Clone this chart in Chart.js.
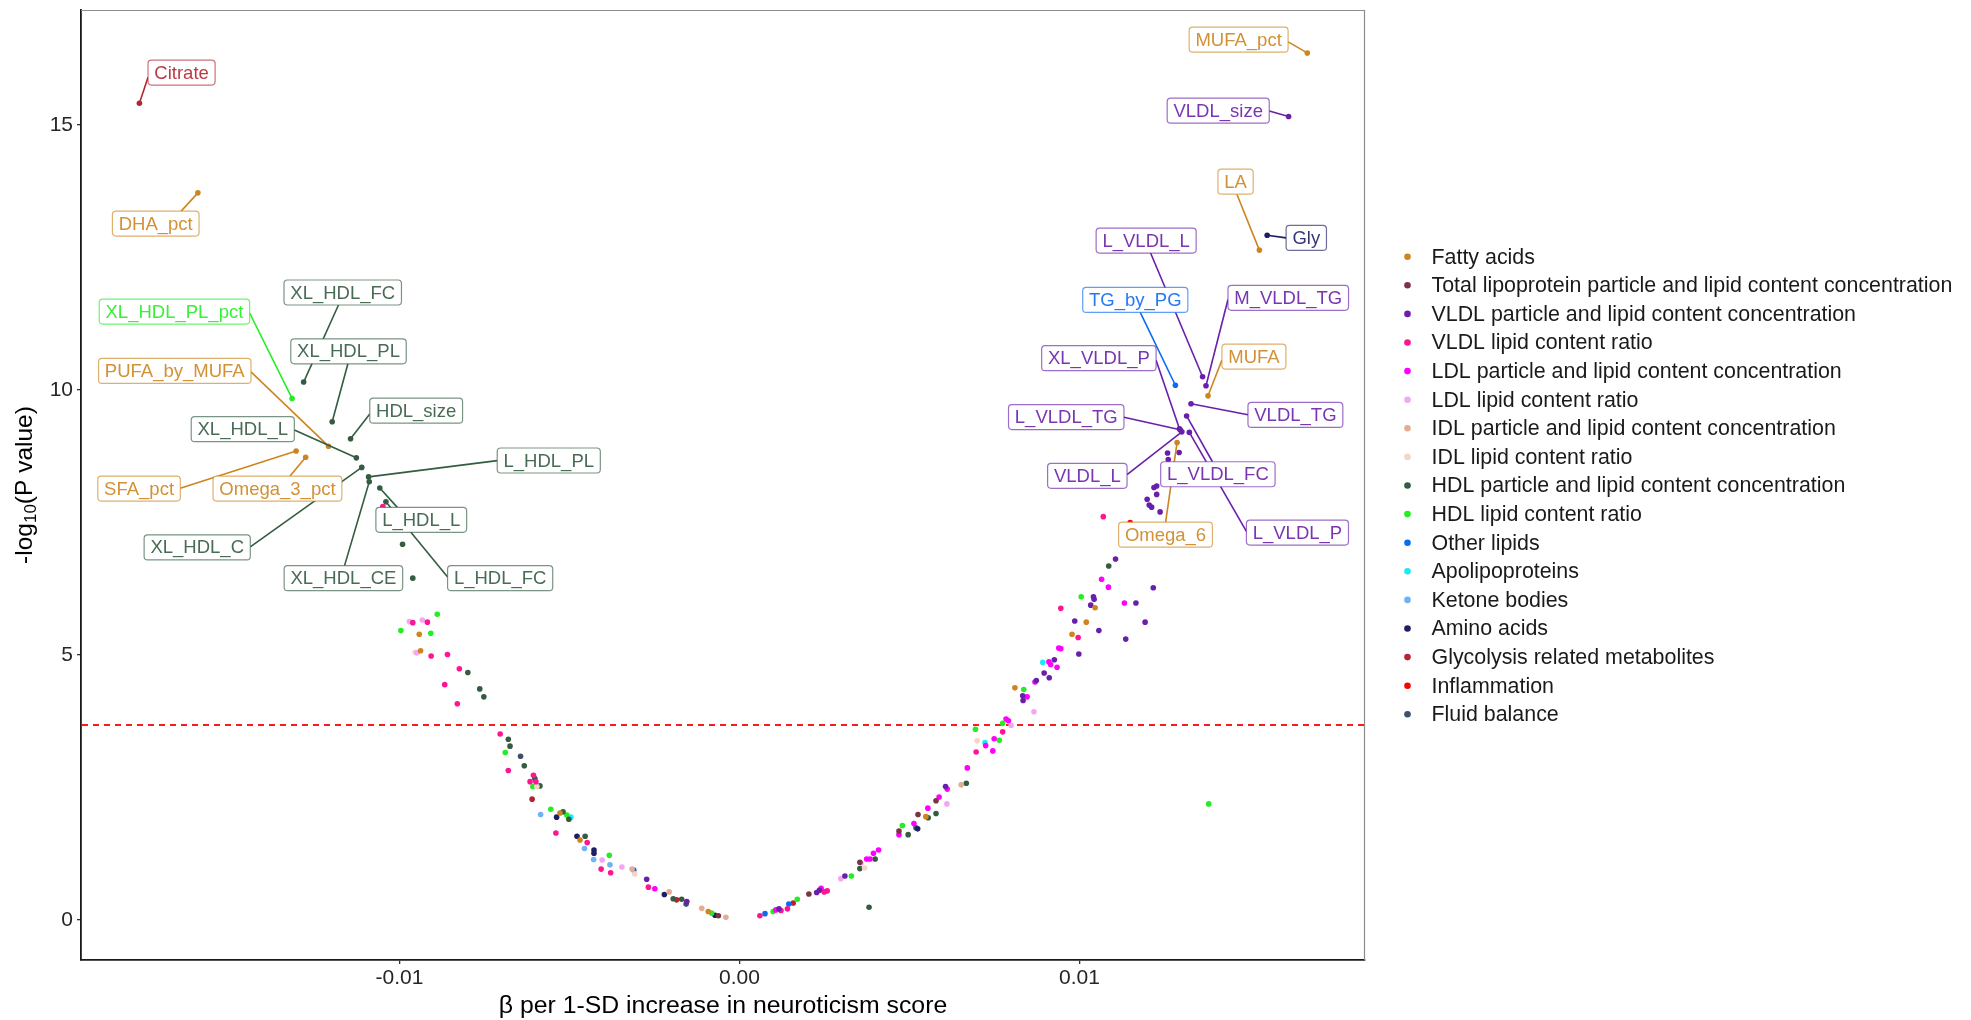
<!DOCTYPE html>
<html>
<head>
<meta charset="utf-8">
<script src="https://cdn.jsdelivr.net/npm/chart.js@4.4.1/dist/chart.umd.min.js"></script>
<style>
  html, body { margin: 0; padding: 0; background: #fff; }
  canvas { display: block; }
</style>
</head>
<body>
<canvas id="volcano" width="1971" height="1020"></canvas>
<script>
const categories = [
  'Fatty acids',
  'Total lipoprotein particle and lipid content concentration',
  'VLDL particle and lipid content concentration',
  'VLDL lipid content ratio',
  'LDL particle and lipid content concentration',
  'LDL lipid content ratio',
  'IDL particle and lipid content concentration',
  'IDL lipid content ratio',
  'HDL particle and lipid content concentration',
  'HDL lipid content ratio',
  'Other lipids',
  'Apolipoproteins',
  'Ketone bodies',
  'Amino acids',
  'Glycolysis related metabolites',
  'Inflammation',
  'Fluid balance'
];

const categoryColors = [
  '#CD851F', '#7A3542', '#6A1FAA', '#FF1493', '#FF00FF', '#F5A5F5',
  '#E3AD91', '#F5D5C5', '#335C40', '#22EE22', '#0B6CF2', '#1DE9F6',
  '#6DB3F7', '#1C1F66', '#B52431', '#FF0000', '#3F4F6F'
];

// [beta, -log10(P), label]
const fattyAcids = [
  [-0.01593, 13.72, 'DHA_pct'], [-0.01209, 8.94, 'PUFA_by_MUFA'], [-0.01304, 8.85, 'SFA_pct'],
  [-0.01276, 8.73, 'Omega_3_pct'], [0.01670, 16.36, 'MUFA_pct'], [0.01529, 12.64, 'LA'],
  [0.01378, 9.89, 'MUFA'], [0.01287, 9.01, 'Omega_6'],
  [-0.00942, 5.39], [-0.00938, 5.08], [-0.00528, 2.02], [-0.00469, 1.51], [-0.00092, 0.16],
  [0.01046, 5.89], [0.01020, 5.62], [0.00978, 5.39], [0.00810, 4.38], [0.00548, 1.95]
];
const totalLipoprotein = [
  [-0.00062, 0.08], [0.00204, 0.49], [0.00354, 1.09], [0.00469, 1.68], [0.00525, 1.99], [0.00578, 2.25]
];
const vldlConc = [
  [0.01615, 15.16, 'VLDL_size'], [0.01362, 10.25, 'L_VLDL_L'], [0.01372, 10.08, 'M_VLDL_TG'],
  [0.01328, 9.74, 'VLDL_TG'], [0.01315, 9.51, 'L_VLDL_FC'], [0.01296, 9.25, 'L_VLDL_TG'],
  [0.01294, 9.27, 'XL_VLDL_P'], [0.01301, 9.21, 'VLDL_L'], [0.01323, 9.20, 'L_VLDL_P'],
  [0.01259, 8.81], [0.01293, 8.82], [0.01261, 8.69], [0.01227, 8.19], [0.01219, 8.16],
  [0.01227, 8.03], [0.01199, 7.94], [0.01205, 7.83], [0.01212, 7.79], [0.01237, 7.70],
  [0.01106, 6.81], [0.01217, 6.27], [0.01041, 6.10], [0.01043, 6.05], [0.01033, 5.94],
  [0.01166, 5.98], [0.01193, 5.62], [0.01136, 5.30], [0.01057, 5.46], [0.00986, 5.64],
  [0.00998, 5.02], [0.00926, 4.91], [0.00896, 4.66], [0.00911, 4.57], [0.00873, 4.52],
  [0.00833, 4.23], [0.00834, 4.14], [0.00606, 2.52], [0.00310, 0.83], [0.00235, 0.56],
  [0.00227, 0.52], [0.00116, 0.21], [-0.00273, 0.77], [-0.00155, 0.35]
];
const vldlRatio = [
  [0.01070, 7.61], [0.00945, 5.88], [0.00996, 5.33], [0.00774, 3.55], [0.00696, 3.17],
  [0.00258, 0.55], [0.00249, 0.53], [0.00141, 0.21], [0.00122, 0.18], [0.00060, 0.08],
  [-0.00961, 5.61], [-0.00918, 5.62], [-0.00907, 4.98], [-0.00859, 5.01], [-0.00824, 4.74],
  [-0.00867, 4.44], [-0.00830, 4.08], [-0.00704, 3.51], [-0.00680, 2.82], [-0.00606, 2.73],
  [-0.00616, 2.61], [-0.00599, 2.61], [-0.00540, 1.64], [-0.00448, 1.46], [-0.00407, 0.96],
  [-0.00379, 0.89], [-0.00268, 0.62], [-0.01049, 7.80]
];
const ldlConc = [
  [0.01065, 6.43], [0.01085, 6.28], [0.01132, 5.98], [0.00939, 5.13], [0.00945, 5.12],
  [0.00910, 4.87], [0.00915, 4.82], [0.00934, 4.77], [0.00869, 4.49], [0.00846, 4.21],
  [0.00784, 3.79], [0.00791, 3.76], [0.00749, 3.42], [0.00745, 3.19], [0.00724, 3.29],
  [0.00670, 2.87], [0.00611, 2.47], [0.00587, 2.32], [0.00554, 2.11], [0.00513, 1.82],
  [0.00469, 1.61], [0.00409, 1.32], [0.00394, 1.26], [0.00384, 1.15], [0.00374, 1.15],
  [0.00240, 0.60], [0.00107, 0.19], [-0.00249, 0.59]
];
const ldlRatio = [
  [-0.00971, 5.63], [-0.00933, 5.66], [-0.00949, 5.04], [-0.00404, 1.13], [-0.00346, 1.00],
  [0.00866, 3.93], [0.00799, 3.67], [0.00610, 2.19], [0.00357, 1.07], [0.00298, 0.78]
];
const idlConc = [
  [-0.00316, 0.96], [-0.00207, 0.53], [-0.00111, 0.22], [-0.00040, 0.05], [0.00652, 2.55]
];
const idlRatio = [
  [-0.00954, 5.05], [-0.00596, 2.52], [-0.00308, 0.87], [0.00699, 3.38], [0.00368, 0.98]
];
const hdlConc = [
  [-0.01282, 10.15, 'XL_HDL_FC'], [-0.01198, 9.40, 'XL_HDL_PL'], [-0.01144, 9.08, 'HDL_size'],
  [-0.01127, 8.72, 'XL_HDL_L'], [-0.01111, 8.54, 'XL_HDL_C'], [-0.01091, 8.36, 'L_HDL_PL'],
  [-0.01089, 8.27, 'XL_HDL_CE'], [-0.01058, 8.15, 'L_HDL_L'], [-0.01040, 7.89, 'L_HDL_FC'],
  [-0.00991, 7.09], [-0.00961, 6.45], [-0.00799, 4.67], [-0.00764, 4.36], [-0.00752, 4.21],
  [-0.00680, 3.41], [-0.00675, 3.28], [-0.00633, 2.91], [-0.00602, 2.67], [-0.00587, 2.53],
  [-0.00519, 2.04], [-0.00502, 1.90], [-0.00454, 1.58], [-0.00195, 0.40], [-0.00170, 0.39],
  [0.00381, 0.24], [0.00354, 0.97], [0.00399, 1.15], [0.00496, 1.61], [0.00555, 1.93],
  [0.00578, 2.01], [0.00667, 2.58], [0.01086, 6.68]
];
const hdlRatio = [
  [-0.01316, 9.84, 'XL_HDL_PL_pct'],
  [-0.00889, 5.77], [-0.00996, 5.46], [-0.00908, 5.41], [-0.00689, 3.16], [-0.00608, 2.52],
  [-0.00555, 2.09], [-0.00508, 1.98], [-0.00383, 1.22], [-0.00082, 0.13], [0.00099, 0.16],
  [0.00170, 0.39], [0.00329, 0.83], [0.00479, 1.78], [0.00694, 3.60], [0.00764, 3.39],
  [0.00774, 3.71], [0.00836, 4.35], [0.01005, 6.10], [0.01380, 2.19]
];
const otherLipids = [
  [0.01282, 10.09, 'TG_by_PG'], [-0.00311, 0.94], [0.00075, 0.12], [0.00145, 0.30]
];
const apolipoproteins = [[-0.00496, 1.94], [0.00722, 3.35], [0.00892, 4.86]];
const ketoneBodies = [[-0.00585, 1.99], [-0.00456, 1.35], [-0.00429, 1.14], [-0.00381, 1.04]];
const aminoAcids = [
  [0.01552, 12.92, 'Gly'], [-0.00538, 1.94], [-0.00478, 1.58], [-0.00428, 1.32],
  [-0.00428, 1.26], [-0.00221, 0.48], [-0.00072, 0.09], [0.00524, 1.72]
];
const glycolysis = [[-0.01765, 15.41, 'Citrate'], [-0.00610, 2.28], [-0.00185, 0.38], [0.00158, 0.32]];
const inflammation = [[0.01149, 7.50]];
const fluidBalance = [[-0.00644, 3.09], [-0.00157, 0.30], [0.00519, 1.74]];

const seriesByCategory = [
  fattyAcids, totalLipoprotein, vldlConc, vldlRatio, ldlConc, ldlRatio, idlConc, idlRatio,
  hdlConc, hdlRatio, otherLipids, apolipoproteins, ketoneBodies, aminoAcids, glycolysis,
  inflammation, fluidBalance
];

// label box centres, in data units (beta, -log10 P)
const labelBoxes = {
  Citrate: [-0.01641, 15.99], DHA_pct: [-0.01717, 13.14], XL_HDL_PL_pct: [-0.01662, 11.48],
  XL_HDL_FC: [-0.01167, 11.84], XL_HDL_PL: [-0.01150, 10.73], PUFA_by_MUFA: [-0.01661, 10.36],
  HDL_size: [-0.00951, 9.61], XL_HDL_L: [-0.01461, 9.26], L_HDL_PL: [-0.00561, 8.67],
  SFA_pct: [-0.01766, 8.14], Omega_3_pct: [-0.01359, 8.14], L_HDL_L: [-0.00936, 7.55],
  XL_HDL_C: [-0.01595, 7.03], XL_HDL_CE: [-0.01165, 6.45], L_HDL_FC: [-0.00704, 6.45],
  MUFA_pct: [0.01468, 16.61], VLDL_size: [0.01408, 15.27], LA: [0.01459, 13.93],
  Gly: [0.01667, 12.87], L_VLDL_L: [0.01196, 12.82], TG_by_PG: [0.01164, 11.70],
  M_VLDL_TG: [0.01614, 11.74], XL_VLDL_P: [0.01057, 10.60], MUFA: [0.01513, 10.63],
  L_VLDL_TG: [0.00961, 9.49], VLDL_TG: [0.01635, 9.53], VLDL_L: [0.01023, 8.38],
  L_VLDL_FC: [0.01407, 8.41], Omega_6: [0.01253, 7.27], L_VLDL_P: [0.01641, 7.31]
};

const xTicks = [-0.01, 0, 0.01];
const xTickLabels = ['-0.01', '0.00', '0.01'];
const yTicks = [0, 5, 10, 15];
const threshold = 3.68;

const FONT = '"Liberation Sans", Arial, Helvetica, sans-serif';

const roundRect = (ctx, x, y, w, h, r) => {
  ctx.beginPath();
  ctx.moveTo(x + r, y);
  ctx.arcTo(x + w, y, x + w, y + h, r);
  ctx.arcTo(x + w, y + h, x, y + h, r);
  ctx.arcTo(x, y + h, x, y, r);
  ctx.arcTo(x, y, x + w, y, r);
  ctx.closePath();
};

// ggrepel-style: nearest point on box, nudged toward the edge midpoint
const connectPoint = (px, py, b) => {
  let ox, oy;
  let left = false, right = false, above = false, below = false;
  if (px >= b.x1 && px <= b.x2) ox = px;
  else if (px > b.x2) { ox = b.x2; right = true; }
  else { ox = b.x1; left = true; }
  if (py >= b.y1 && py <= b.y2) oy = py;
  else if (py > b.y2) { oy = b.y2; below = true; }
  else { oy = b.y1; above = true; }
  if (!(left || right || above || below)) return null;
  const mx = (b.x1 + b.x2) / 2;
  const my = (b.y1 + b.y2) / 2;
  const d = Math.hypot(px - ox, py - oy);
  const vert = above || below;
  const horiz = left || right;
  if (vert && !horiz) {
    ox += (mx - ox) * d / Math.hypot(px - mx, py - oy);
  } else if (horiz && !vert) {
    oy += (my - oy) * d / Math.hypot(px - ox, py - my);
  } else {
    const alt1 = Math.hypot(px - mx, py - oy);
    const alt2 = Math.hypot(px - ox, py - my);
    if (alt1 < alt2) ox += (mx - ox) * d / alt1;
    else oy += (my - oy) * d / alt2;
  }
  return [ox, oy];
};

const decorations = {
  id: 'decorations',
  beforeDatasetsDraw(chart) {
    const { ctx, chartArea: a, scales: { y } } = chart;
    ctx.save();
    ctx.strokeStyle = '#8c8c8c';
    ctx.lineWidth = 1.2;
    ctx.beginPath();
    ctx.moveTo(a.left, a.top + 0.5);
    ctx.lineTo(a.right - 0.5, a.top + 0.5);
    ctx.lineTo(a.right - 0.5, a.bottom);
    ctx.stroke();
    const ty = y.getPixelForValue(threshold);
    ctx.strokeStyle = '#FF1A1A';
    ctx.lineWidth = 2;
    ctx.setLineDash([6, 5]);
    ctx.beginPath();
    ctx.moveTo(a.left + 1, ty);
    ctx.lineTo(a.right - 1, ty);
    ctx.stroke();
    ctx.restore();
  },
  afterDatasetsDraw(chart) {
    const { ctx, scales: { x, y } } = chart;
    const items = [];
    chart.data.datasets.forEach((ds) => {
      ds.data.forEach((pt) => {
        if (!pt.tag || !labelBoxes[pt.tag]) return;
        const [lx, ly] = labelBoxes[pt.tag];
        items.push({
          text: pt.tag, color: ds.backgroundColor,
          px: x.getPixelForValue(pt.x), py: y.getPixelForValue(pt.y),
          cx: x.getPixelForValue(lx), cy: y.getPixelForValue(ly)
        });
      });
    });
    ctx.save();
    ctx.font = `18.5px ${FONT}`;
    items.forEach((it) => {
      const hw = ctx.measureText(it.text).width / 2 + 6.3;
      const hh = 12.5;
      it.box = { x1: it.cx - hw, x2: it.cx + hw, y1: it.cy - hh, y2: it.cy + hh };
    });
    items.forEach((it) => {
      const e = connectPoint(it.px, it.py, it.box);
      if (!e) return;
      ctx.strokeStyle = it.color;
      ctx.lineWidth = 1.6;
      ctx.beginPath();
      ctx.moveTo(it.px, it.py);
      ctx.lineTo(e[0], e[1]);
      ctx.stroke();
    });
    items.forEach((it) => {
      const b = it.box;
      roundRect(ctx, b.x1, b.y1, b.x2 - b.x1, b.y2 - b.y1, 3.5);
      ctx.fillStyle = '#fff';
      ctx.fill();
      ctx.globalAlpha = 0.65;
      ctx.strokeStyle = it.color;
      ctx.lineWidth = 1.2;
      ctx.stroke();
      ctx.globalAlpha = 0.9;
      ctx.fillStyle = it.color;
      ctx.textAlign = 'center';
      ctx.textBaseline = 'middle';
      ctx.fillText(it.text, it.cx, it.cy + 1);
      ctx.globalAlpha = 1;
    });
    ctx.restore();
  },
  afterDraw(chart) {
    const { ctx, chartArea: a } = chart;
    ctx.save();
    ctx.fillStyle = '#000';
    ctx.font = `24.8px ${FONT}`;
    ctx.textAlign = 'center';
    ctx.textBaseline = 'middle';
    ctx.fillText('\u03B2 per 1-SD increase in neuroticism score', (a.left + a.right) / 2, 1006);
    ctx.translate(25, (a.top + a.bottom) / 2);
    ctx.rotate(-Math.PI / 2);
    ctx.textAlign = 'left';
    const big = `24.5px ${FONT}`;
    const small = `17px ${FONT}`;
    const parts = [['-log', big, 0], ['10', small, 6], ['(P value)', big, 0]];
    let total = 0;
    parts.forEach(([t, f]) => { ctx.font = f; total += ctx.measureText(t).width; });
    let cx = -total / 2;
    parts.forEach(([t, f, dy]) => {
      ctx.font = f;
      ctx.fillText(t, cx, dy);
      cx += ctx.measureText(t).width;
    });
    ctx.restore();

    ctx.save();
    ctx.font = `21.4px ${FONT}`;
    ctx.textAlign = 'left';
    ctx.textBaseline = 'middle';
    chart.data.datasets.forEach((ds, i) => {
      const ly = 256.7 + i * 28.6;
      ctx.fillStyle = ds.backgroundColor;
      ctx.beginPath();
      ctx.arc(1407.5, ly, 3.3, 0, Math.PI * 2);
      ctx.fill();
      ctx.fillStyle = '#1a1a1a';
      ctx.fillText(ds.label, 1431.5, ly + 1);
    });
    ctx.restore();
  }
};

const datasets = categories.map((name, i) => ({
  label: name,
  data: seriesByCategory[i].map(([bx, ly, tag]) => ({ x: bx, y: ly, tag })),
  backgroundColor: categoryColors[i],
  borderWidth: 0,
  pointRadius: 2.8,
  pointHoverRadius: 2.8
}));

new Chart(document.getElementById('volcano'), {
  type: 'scatter',
  data: { datasets },
  options: {
    responsive: false,
    animation: false,
    events: [],
    layout: { padding: { left: 0, top: 10, right: 606, bottom: 0 } },
    plugins: { legend: { display: false }, tooltip: { enabled: false } },
    scales: {
      x: {
        type: 'linear',
        min: -0.019368,
        max: 0.018397,
        afterFit: (s) => { s.height = 60; s.paddingLeft = 0; s.paddingRight = 0; },
        afterBuildTicks: (s) => { s.ticks = xTicks.map((v) => ({ value: v })); },
        ticks: {
          callback: (v, i) => xTickLabels[i],
          color: '#262626',
          font: { family: FONT, size: 21 },
          padding: 2,
          maxRotation: 0
        },
        grid: { drawOnChartArea: false, drawTicks: true, tickLength: 4, color: '#333', lineWidth: 1.3 },
        border: { display: true, color: '#1a1a1a', width: 1.8 }
      },
      y: {
        type: 'linear',
        min: -0.755,
        max: 17.17,
        afterFit: (s) => { s.width = 81; s.paddingTop = 0; s.paddingBottom = 0; },
        afterBuildTicks: (s) => { s.ticks = yTicks.map((v) => ({ value: v })); },
        ticks: {
          callback: (v) => String(v),
          color: '#262626',
          font: { family: FONT, size: 21 },
          padding: 4
        },
        grid: { drawOnChartArea: false, drawTicks: true, tickLength: 4, color: '#333', lineWidth: 1.3 },
        border: { display: true, color: '#1a1a1a', width: 1.8 }
      }
    }
  },
  plugins: [decorations]
});
</script>
</body>
</html>
